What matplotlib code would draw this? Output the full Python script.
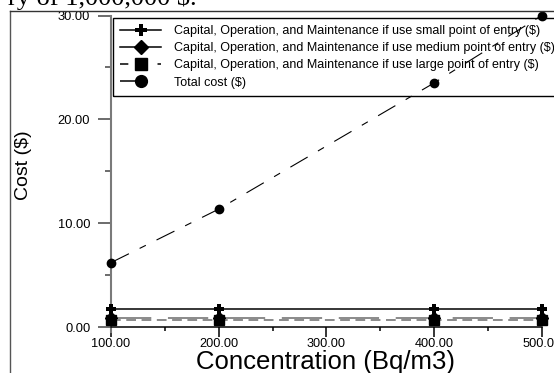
import matplotlib
matplotlib.use("Agg")
import matplotlib.pyplot as plt
from matplotlib.lines import Line2D
from matplotlib.ticker import FixedLocator, FormatStrFormatter

plt.rcParams['font.family'] = ['Liberation Sans', 'DejaVu Sans']
plt.rcParams['lines.scale_dashes'] = False

# ---- data ----
concentration = [100, 200, 400, 500]
small_poe = [1.7, 1.7, 1.7, 1.7]
medium_poe = [0.88, 0.88, 0.88, 0.88]
large_poe = [0.66, 0.66, 0.66, 0.66]
total_cost = [6.2, 11.35, 23.5, 30.0]

labels = [
    "Capital, Operation, and Maintenance if use small point of entry ($)",
    "Capital, Operation, and Maintenance if use medium point of entry ($)",
    "Capital, Operation, and Maintenance if use large point of entry ($)",
    "Total cost ($)",
]
x_major = [100, 200, 300, 400, 500]
x_minor = [150, 250, 350, 450]
y_major = [0, 10, 20, 30]
y_minor = [5, 15, 25]

W, H = 554, 373
fig = plt.figure(figsize=(W / 100, H / 100), dpi=100)
fig.patch.set_facecolor('white')

x0, x1 = 111, 541.7
y0, y1 = 327, 15.5
ax = fig.add_axes([x0 / W, (H - y0) / H, (x1 - x0) / W, (y0 - y1) / H])
ax.set_xlim(100, 500)
ax.set_ylim(0, 30)
ax.patch.set_alpha(0)

gray = '#8a8a8a'
# series
ax.plot(concentration, medium_poe, color=gray, lw=1.4, ls=(0, (29, 12)),
        marker='D', ms=6.5, mfc='black', mec='black', clip_on=False, zorder=3)
ax.plot(concentration, large_poe, color=gray, lw=1.4, ls=(0, (7, 4)),
        marker='s', ms=6.5, mfc='black', mec='black', clip_on=False, zorder=3)
ax.plot(concentration, small_poe, color='black', lw=1.1, ls='-',
        marker='P', ms=7.5, mfc='black', mec='black', mew=0, clip_on=False, zorder=4)
ax.plot(concentration, total_cost, color='black', lw=0.8, ls=(0, (14.4, 8.6, 5, 8.6)),
        marker='o', ms=6, mfc='black', mec='black', clip_on=False, zorder=5)

# spines
for s in ['top', 'right']:
    ax.spines[s].set_visible(False)
ax.spines['left'].set_color('#7a7a7a')
ax.spines['left'].set_linewidth(1.5)
ax.spines['left'].set_bounds(-0.5, 30)
ax.spines['bottom'].set_color('black')
ax.spines['bottom'].set_linewidth(1.1)

ax.xaxis.set_major_locator(FixedLocator(x_major))
ax.xaxis.set_minor_locator(FixedLocator(x_minor))
ax.yaxis.set_major_locator(FixedLocator(y_major))
ax.yaxis.set_minor_locator(FixedLocator(y_minor))
ax.xaxis.set_major_formatter(FormatStrFormatter('%.2f'))
ax.yaxis.set_major_formatter(FormatStrFormatter('%.2f'))
ax.tick_params(axis='x', which='major', length=7.2, width=1.1, color='black',
               labelsize=9.2, pad=1.0)
ax.tick_params(axis='x', which='minor', length=3, width=1.1, color='black')
ax.tick_params(axis='y', which='major', length=9.4, width=1.1, color='#444444',
               labelsize=9.3, pad=5.5)
ax.tick_params(axis='y', which='minor', length=4.3, width=1.1, color='#444444')

# legend with proxy handles
handles = [
    Line2D([], [], color='black', lw=1.1, ls='-', marker='P', ms=9, mew=0),
    Line2D([], [], color='black', lw=1.1, ls='-', marker='D', ms=7),
    Line2D([], [], color='black', lw=1.1, ls=(0, (6, 7.5)), marker='s', ms=8.5),
    Line2D([], [], color='black', lw=1.1, ls=(0, (14, 17, 2, 4)), marker='o', ms=8.5),
]
leg = ax.legend(handles, labels, loc='upper left',
                bbox_to_anchor=(113 / W, (H - 18) / H), bbox_transform=fig.transFigure,
                fontsize=9.0, frameon=True, fancybox=False, facecolor='none',
                framealpha=1, edgecolor='black', handlelength=3.3, handletextpad=1.05,
                labelspacing=0.42, borderpad=0.55, borderaxespad=0)
leg.get_frame().set_linewidth(1.0)
leg.set_zorder(2)

# axis labels
fig.text(326 / W, 1 - 369 / H, 'Concentration (Bq/m3)', ha='center', va='baseline',
         fontsize=18.5)
fig.text(23 / W, 1 - 165 / H, 'Cost ($)', rotation=90, ha='center', va='center',
         fontsize=14)

# cropped caption text from page
fig.text(197 / W, 1 - 5 / H, 'ry of 1,000,000 $.', ha='right', va='baseline',
         fontsize=19, family='Liberation Serif')

# outer frame lines
fig.add_artist(Line2D([10 / W, 10 / W], [0, 1 - 11 / H], transform=fig.transFigure,
                      color='#555555', lw=1.0))
fig.add_artist(Line2D([10 / W, 1], [1 - 11 / H, 1 - 11 / H], transform=fig.transFigure,
                      color='#333333', lw=1.0))

fig.savefig('out.png', dpi=100)
